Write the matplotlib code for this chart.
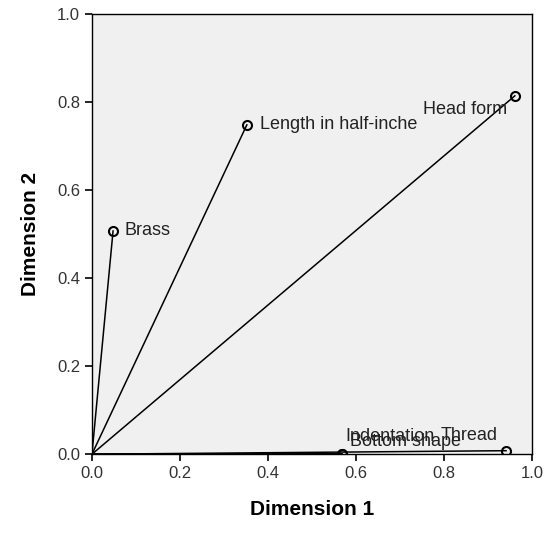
import matplotlib
matplotlib.use('Agg')
import matplotlib.pyplot as plt

plt.rcParams['font.family'] = ['Liberation Sans', 'DejaVu Sans']

# component loadings
names = ['Brass', 'Length in half-inche', 'Head form', 'Indentation', 'Thread', 'Bottom shape']
dim1 = [0.048, 0.352, 0.961, 0.568, 0.941, 0.568]
dim2 = [0.507, 0.748, 0.814, 0.001, 0.008, 0.0]
# label offsets in pixels, and alignment
offsets = [(11, 0), (13, 0), (-8, -14), (3, 17), (-8, 15), (8, 13)]
aligns = ['left', 'left', 'right', 'left', 'right', 'left']

fig = plt.figure(figsize=(5.44, 5.35), dpi=100)
ax = fig.add_axes([0.169, 0.151, 0.809, 0.823])
ax.set_facecolor('#f0f0f0')

for x, y, name, off, ha in zip(dim1, dim2, names, offsets, aligns):
    ax.plot([0, x], [0, y], color='black', lw=1.1, zorder=2)
    ax.plot(x, y, 'o', ms=6.5, mfc='none', mec='black', mew=1.5, zorder=3)
    ax.annotate(name, (x, y), xytext=off, textcoords='offset pixels',
                ha=ha, va='center', fontsize=13, color='#222222')

ax.set_xlim(0, 1)
ax.set_ylim(0, 1)
ticks = [0.0, 0.2, 0.4, 0.6, 0.8, 1.0]
ax.set_xticks(ticks)
ax.set_yticks(ticks)
ax.set_xticklabels(['%.1f' % t for t in ticks])
ax.set_yticklabels(['%.1f' % t for t in ticks])
ax.tick_params(direction='out', length=5, width=1.2, labelsize=12, colors='black',
               labelcolor='#333333')
for s in ax.spines.values():
    s.set_linewidth(1.0)

ax.set_xlabel('Dimension 1', fontsize=15, fontweight='bold', labelpad=14)
ax.set_ylabel('Dimension 2', fontsize=15, fontweight='bold', labelpad=12)

fig.savefig('out.png', dpi=100)
